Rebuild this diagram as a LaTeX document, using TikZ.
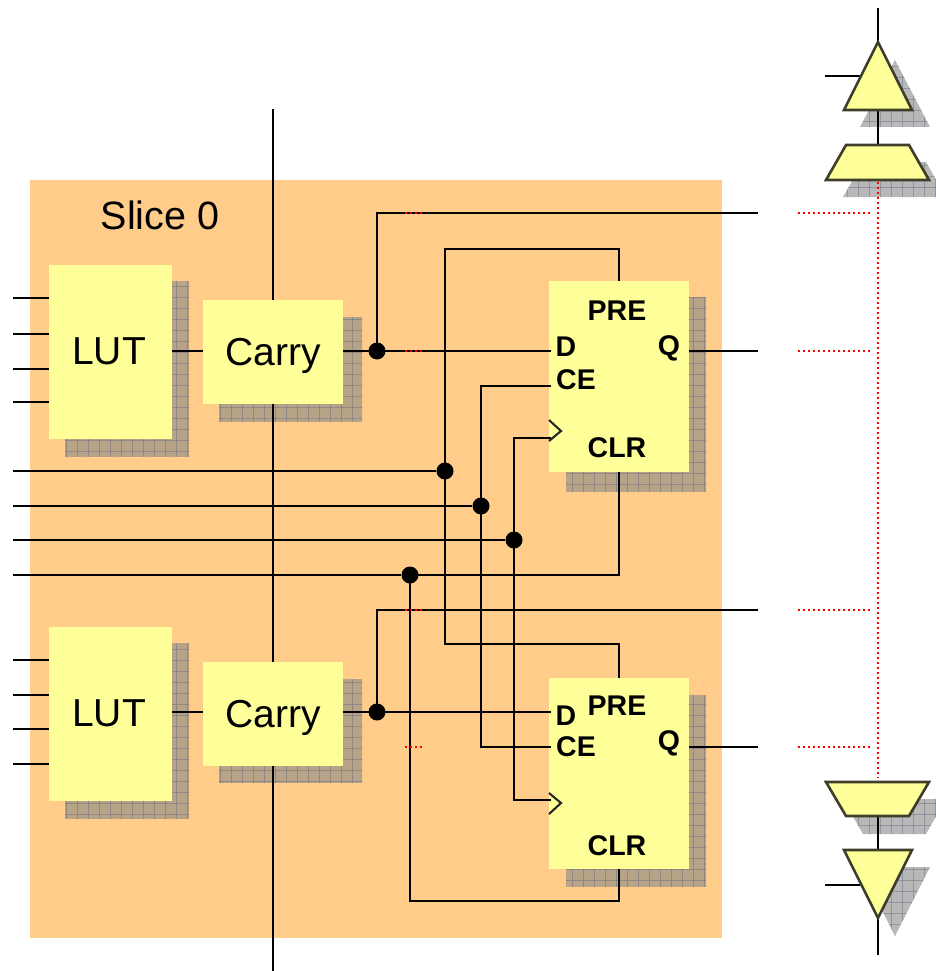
\documentclass[tikz,border=0pt]{standalone}
\usepackage{fontspec}
\setmainfont{Liberation Sans}
\usetikzlibrary{calc}
\definecolor{sliceor}{HTML}{FFCC8A}
\definecolor{boxyel}{HTML}{FFFF99}
\definecolor{gridln}{HTML}{5A6478}
\definecolor{edgedk}{HTML}{3E3E2A}
\definecolor{shadegray}{HTML}{888888}
\newcommand{\shadowshape}[1]{%
  \begin{scope}
    \clip #1;
    \fill[shadegray,opacity=.6] (0,0) rectangle (936,971);
    \foreach \gx in {0,11,...,935} {\draw[gridln,opacity=.4,line width=.9pt] (\gx,0) -- (\gx,971);}
    \foreach \gy in {0,11,...,970} {\draw[gridln,opacity=.4,line width=.9pt] (0,\gy) -- (936,\gy);}
  \end{scope}}
\tikzset{
  x=1pt,y=-1pt,
  wire/.style={black,line width=2.1pt,line cap=butt,line join=miter},
  reddots/.style={red,line width=2pt,dash pattern=on 2.2pt off 2.8pt},
  block/.style={fill=boxyel,draw=none,inner sep=0,anchor=north west},
  lutbox/.style={block,minimum width=123pt,minimum height=174pt},
  carrybox/.style={block,minimum width=140pt,minimum height=104pt},
  bigtext/.style={inner sep=0,font=\fontsize{39}{39}\selectfont},
  ffbox/.style={block,minimum width=140pt,minimum height=191pt},
  pin/.style={font=\fontsize{28.5}{28.5}\selectfont\bfseries,inner sep=0},
  joint/.style={circle,fill=black,draw=none,inner sep=0,minimum size=17pt},
  iobuf/.style={fill=boxyel,draw=edgedk,line width=2.6pt,line join=miter}
}
\begin{document}
\begin{tikzpicture}
\useasboundingbox (0,0) rectangle (936,971);
% slice
\node[fill=sliceor,inner sep=0,anchor=north west,minimum width=692pt,minimum height=758pt] (slice) at (30,180) {};
\node[font=\fontsize{39.5}{39.5}\selectfont,inner sep=0] (slicelabel) at (160,215) {Slice 0};
% shadows
\shadowshape{(65,281) rectangle (189,456)}
\shadowshape{(219,317) rectangle (362,421)}
\shadowshape{(566,297) rectangle (706,491)}
\shadowshape{(65,643) rectangle (189,818)}
\shadowshape{(219,679) rectangle (362,782)}
\shadowshape{(566,695) rectangle (706,886)}
% i/o shadows
\shadowshape{(895,60) -- (930,127) -- (860,127) -- cycle}
\shadowshape{(863,162) -- (926,162) -- (946,197) -- (843,197) -- cycle}
\shadowshape{(843,799) -- (946,799) -- (926,834) -- (863,834) -- cycle}
\shadowshape{(860,867) -- (930,867) -- (895,936) -- cycle}
% boxes
\node[lutbox] (lutA) at (49,265) {};
\node[carrybox] (carryA) at (203,300) {};
\node[ffbox] (ffA) at (549,281) {};
\node[lutbox] (lutB) at (49,627) {};
\node[carrybox] (carryB) at (203,662) {};
\node[ffbox] (ffB) at (549,678) {};
\node[bigtext] (lutAt) at (109,351.5) {LUT};
\node[bigtext] (lutBt) at (109,713.5) {LUT};
\node[bigtext] (carryAt) at (273,356) {Carry};
\node[bigtext] (carryBt) at (273,718) {Carry};
% pin labels
\node[pin] (preA) at (617,311) {PRE};
\node[pin] (dA) at (566,347) {D};
\node[pin] (ceA) at (576,380) {CE};
\node[pin] (clrA) at (617,448) {CLR};
\node[pin] (qA) at (669,348) {Q};
\node[pin] (preB) at (617,706) {PRE};
\node[pin] (dB) at (566,716) {D};
\node[pin] (ceB) at (576,747) {CE};
\node[pin] (clrB) at (617,846) {CLR};
\node[pin] (qB) at (669,743) {Q};
% i/o buffers
\coordinate (tt) at (878,42);
\coordinate (ttb) at (878,110);
\coordinate (tz) at (878,145);
\coordinate (tzb) at (878,180);
\coordinate (bz) at (878,782);
\coordinate (bzb) at (878,816);
\coordinate (bt) at (878,850);
\coordinate (bta) at (878,918);
\coordinate (ttl) at (860,76);
\coordinate (btl) at (860,885);
\coordinate (topend) at (878,8);
\coordinate (botend) at (878,955);
\coordinate (ttin) at (825,76);
\coordinate (btin) at (825,885);
\draw[wire] (topend) -- (tt);
\draw[wire] (ttin) -- (ttl);
\draw[wire] (ttb) -- (tz);
\draw[wire] (bzb) -- (bt);
\draw[wire] (btin) -- (btl);
\draw[wire] (bta) -- (botend);
\draw[iobuf] (tt) -- (912,110) -- (844,110) -- cycle;
\draw[iobuf] (846,145) -- (909,145) -- (929,180) -- (826,180) -- cycle;
\draw[iobuf] (826,782) -- (929,782) -- (909,816) -- (846,816) -- cycle;
\draw[iobuf] (844,850) -- (912,850) -- (bta) -- cycle;
% stubs to LUTs
\foreach \yy in {298,334,369,402} {\coordinate (s) at (13,\yy); \draw[wire] (s) -- (s -| lutA.west);}
\foreach \yy in {660,695,729,764} {\coordinate (s) at (13,\yy); \draw[wire] (s) -- (s -| lutB.west);}
% carry chain
\coordinate (cin) at (273,109);
\coordinate (cout) at (273,971);
\draw[wire] (cin) -- (cin |- carryA.north);
\draw[wire] (cin |- carryA.south) -- (cin |- carryB.north);
\draw[wire] (cin |- carryB.south) -- (cout);
% LUT to carry
\coordinate (rA) at (0,351);
\coordinate (rB) at (0,712);
\draw[wire] (rA -| lutA.east) -- (rA -| carryA.west);
\draw[wire] (rB -| lutB.east) -- (rB -| carryB.west);
% joints
\node[joint] (jA) at (377,351) {};
\node[joint] (jB) at (377,712) {};
\node[joint] (jpre) at (445,471) {};
\node[joint] (jce) at (481,506) {};
\node[joint] (jclk) at (514,540) {};
\node[joint] (jclr) at (410,575) {};
% carry to D
\coordinate (dAin) at (551,351);
\coordinate (dBin) at (551,712);
\coordinate (xA) at (758,213);
\coordinate (xB) at (758,610);
\coordinate (qAo) at (758,351);
\coordinate (qBo) at (758,747);
\draw[wire] (rA -| carryA.east) -- (dAin);
\draw[wire] (rB -| carryB.east) -- (dBin);
\draw[wire] (jA.center) |- (xA);
\draw[wire] (jB.center) |- (xB);
\draw[wire] (qAo -| ffA.east) -- (qAo);
\draw[wire] (qBo -| ffB.east) -- (qBo);
% control lines in
\foreach \nn in {jpre,jce,jclk,jclr} {\coordinate (s) at (13,0); \draw[wire] (s |- \nn) -- (\nn);}
% PRE
\coordinate (preAt) at (619,249);
\coordinate (preBt) at (619,644);
\draw[wire] (ffA.north -| preAt) -- (preAt) -- (preAt -| jpre) -- (jpre |- preBt) -- (preBt) -- (ffB.north -| preBt);
% CE
\coordinate (ceAp) at (551,386);
\coordinate (ceBp) at (551,747);
\draw[wire] (ceAp) -- (ceAp -| jce) -- (ceBp -| jce) -- (ceBp);
% CLK
\coordinate (ckAp) at (551,438);
\coordinate (ckBp) at (551,800);
\draw[wire] (ckAp) -- (ckAp -| jclk) -- (ckBp -| jclk) -- (ckBp);
\draw[black!85,line width=2.1pt] (549,420) -- (561,431) -- (549,441);
\draw[black!85,line width=2.1pt] (549,793) -- (561,803) -- (549,814);
% CLR
\coordinate (clrBb) at (619,901);
\draw[wire] (jclr.center) -- (jclr -| clrBb) -- (ffA.south -| clrBb);
\draw[wire] (jclr.center) -- (jclr |- clrBb) -- (clrBb) -- (ffB.south -| clrBb);
% red dots
\coordinate (rt) at (878,182);
\coordinate (rb) at (878,778);
\draw[reddots] (rt) -- (rb);
\foreach \yy in {213,351,610,747} {
  \coordinate (a) at (798,\yy); \coordinate (b) at (872,\yy);
  \draw[reddots] (a) -- (b);
  \coordinate (c) at (405,\yy); \coordinate (d) at (424,\yy);
  \draw[reddots] (c) -- (d);
}
\end{tikzpicture}
\end{document}
